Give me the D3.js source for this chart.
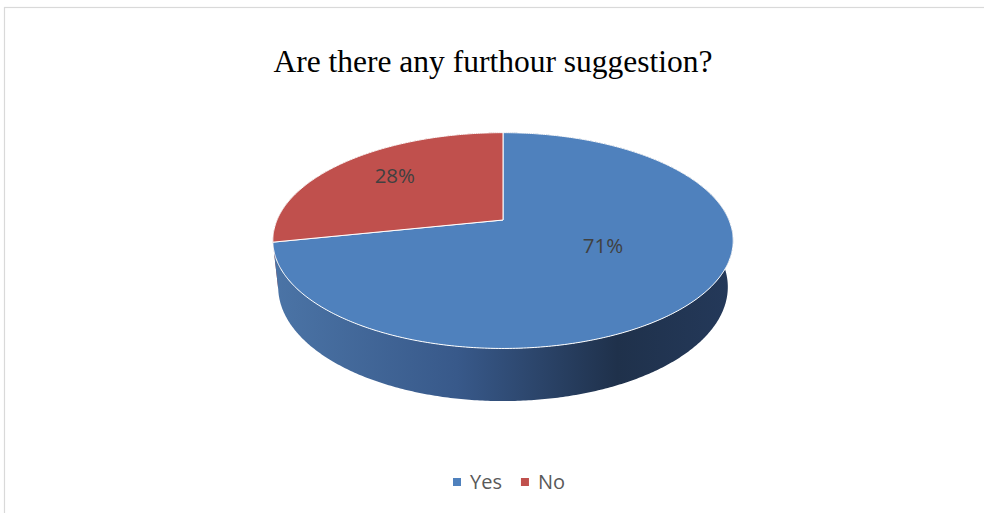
<!DOCTYPE html>
<html><head><meta charset="utf-8">
<script src="https://cdn.jsdelivr.net/npm/d3@7"></script>
<style>html,body{margin:0;padding:0;background:#fff;}</style>
</head><body>
<script>
const title = "Are there any furthour suggestion?";
const categories = ["Yes", "No"];
const values = [71, 28];
const labels = ["71%", "28%"];
const colors = ["#4f81bd", "#c0504d"];

const W = 984, H = 513;
const svg = d3.select("body").append("svg").attr("width", W).attr("height", H);
svg.append("rect").attr("width", W).attr("height", H).attr("fill", "#fff");
svg.append("rect").attr("x", 4.5).attr("y", 7.5).attr("width", 1000).attr("height", 520)
  .attr("fill", "none").attr("stroke", "#d9d9d9").attr("stroke-width", 1.2);

svg.append("text").attr("x", 493).attr("y", 72).attr("text-anchor", "middle")
  .attr("font-family", "'Liberation Serif','Times New Roman',serif").attr("font-size", 31.5)
  .attr("fill", "#000").text(title);

// 3D perspective projection of a unit disk
const cx = 503, cy = 220, f = 1053, D = 4.66, alpha = 27.4 * Math.PI / 180, h = 0.233;
const sa = Math.sin(alpha), ca = Math.cos(alpha);
function proj(x, y, z) {
  const depth = D - y * ca - z * sa;
  return [cx + f * x / depth, cy + f * (y * sa - z * ca) / depth];
}
function edge(a, z, r = 1) { return proj(r * Math.sin(a), -r * Math.cos(a), z); }

const pie = d3.pie().sort(null).value(d => d)(values);
const line = d3.line();
const defs = svg.append("defs");
const grads = [
  [["0%", "#4b74a6"], ["40%", "#38598a"], ["75%", "#1f314b"], ["100%", "#24395a"]],
  [["0%", "#a84441"], ["50%", "#8a3634"], ["100%", "#6a2826"]]
];
grads.forEach((stops, i) => {
  const g = defs.append("linearGradient").attr("id", "side" + i)
    .attr("gradientUnits", "userSpaceOnUse").attr("x1", 274).attr("x2", 732).attr("y1", 0).attr("y2", 0);
  stops.forEach(s => g.append("stop").attr("offset", s[0]).attr("stop-color", s[1]));
});

function samples(a0, a1) {
  const n = Math.max(2, Math.ceil((a1 - a0) / 0.01));
  return d3.range(n + 1).map(k => a0 + (a1 - a0) * k / n);
}

// sides (draw back slice first)
[1, 0].forEach(i => {
  const p = pie[i];
  const as = samples(p.startAngle, p.endAngle);
  const top = as.map(a => edge(a, 0));
  const bot = as.slice().reverse().map(a => edge(a, -h));
  svg.append("path").attr("d", line(top.concat(bot)) + "Z")
    .attr("fill", "url(#side" + i + ")").attr("stroke", "none");
});

// top faces
pie.forEach((p, i) => {
  const as = samples(p.startAngle, p.endAngle);
  const pts = [proj(0, 0, 0)].concat(as.map(a => edge(a, 0)));
  svg.append("path").attr("d", line(pts) + "Z")
    .attr("fill", colors[i]).attr("stroke", "#fff").attr("stroke-width", 1).attr("stroke-linejoin", "round");
});

// data labels (placement: radius fraction and angular shift in degrees)
const labelR = [0.485, 0.695];
const labelShift = [-9.6, 2.4];
pie.forEach((p, i) => {
  const m = (p.startAngle + p.endAngle) / 2 + labelShift[i] * Math.PI / 180;
  const [lx, ly] = edge(m, 0, labelR[i]);
  svg.append("text").attr("x", lx).attr("y", ly).attr("text-anchor", "middle").attr("dy", "0.36em")
    .attr("font-family", "'Open Sans',sans-serif").attr("font-size", 20.5).attr("fill", "#404040")
    .text(labels[i]);
});

// legend
const lg = svg.append("g");
let lx = 453;
categories.forEach((c, i) => {
  lg.append("rect").attr("x", lx).attr("y", 478).attr("width", 8).attr("height", 8).attr("fill", colors[i]);
  const t = lg.append("text").attr("x", lx + 17).attr("y", 489).attr("font-family", "'Open Sans',sans-serif")
    .attr("font-size", 20).attr("fill", "#595959").text(c);
  lx += 17 + t.node().getComputedTextLength() + 19;
});
</script>
</body></html>
